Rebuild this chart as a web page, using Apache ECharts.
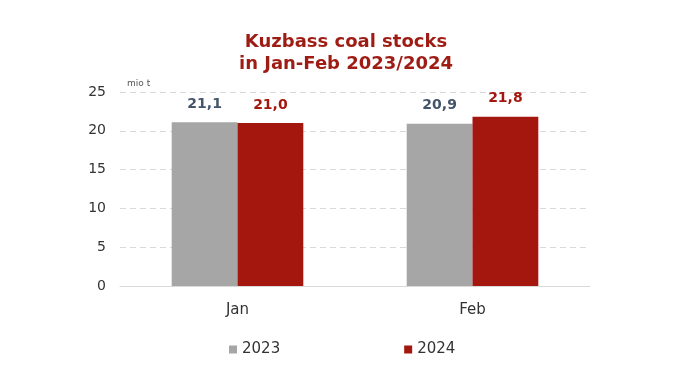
<!DOCTYPE html>
<html><head><meta charset="utf-8">
<script src="https://cdn.jsdelivr.net/npm/echarts@6/dist/echarts.min.js"></script>
<style>html,body{margin:0;padding:0;background:#fff}#c{width:692px;height:386px}</style>
</head><body><div id="c"></div>
<script>
const categories = ['Jan', 'Feb'];
const seriesNames = ['2023', '2024'];
const values2023 = [21.1, 20.9];
const values2024 = [21.0, 21.8];
const yTicks = [0, 5, 10, 15, 20, 25];

const chart = echarts.init(document.getElementById('c'));
const fmt = p => p.value.toFixed(1).replace('.', ',');
const font = 'DejaVu Sans, Verdana, sans-serif';
chart.setOption({
  animation: false,
  textStyle: { fontFamily: font },
  title: {
    text: 'Kuzbass coal stocks\nin Jan-Feb 2023/2024',
    left: 'center', top: 26,
    textStyle: { color: '#9E1C14', fontSize: 18, fontWeight: 'bold', lineHeight: 22, fontFamily: font }
  },
  legend: {
    top: 337, left: 224, itemGap: 124, itemWidth: 8, itemHeight: 8, icon: 'rect',
    textStyle: { fontSize: 15, color: '#333', fontFamily: font },
    data: seriesNames
  },
  grid: { left: 120, right: 102, top: 92, bottom: 100 },
  xAxis: {
    type: 'category', data: categories,
    axisLine: { lineStyle: { color: '#D9D9D9' } },
    axisTick: { show: false },
    axisLabel: { fontSize: 15, color: '#333', margin: 17 }
  },
  yAxis: {
    type: 'value', min: yTicks[0], max: yTicks[yTicks.length - 1], interval: 5,
    name: 'mio t', nameLocation: 'end', nameGap: 4,
    nameTextStyle: { fontSize: 9, color: '#555', align: 'left', padding: [0, 0, 0, 7] },
    axisLabel: { fontSize: 14, color: '#333', margin: 14 },
    splitLine: { lineStyle: { color: '#D9D9D9', type: [6, 4] } }
  },
  series: [
    { name: seriesNames[0], type: 'bar', data: values2023, barGap: '0%', barCategoryGap: '44%',
      itemStyle: { color: '#A6A6A6' },
      label: { show: true, position: 'top', distance: 11, formatter: fmt, color: '#44546A', fontWeight: 'bold', fontSize: 14 } },
    { name: seriesNames[1], type: 'bar', data: values2024,
      itemStyle: { color: '#A3170F' },
      label: { show: true, position: 'top', distance: 11, formatter: fmt, color: '#A3170F', fontWeight: 'bold', fontSize: 14 } }
  ]
});
</script></body></html>
